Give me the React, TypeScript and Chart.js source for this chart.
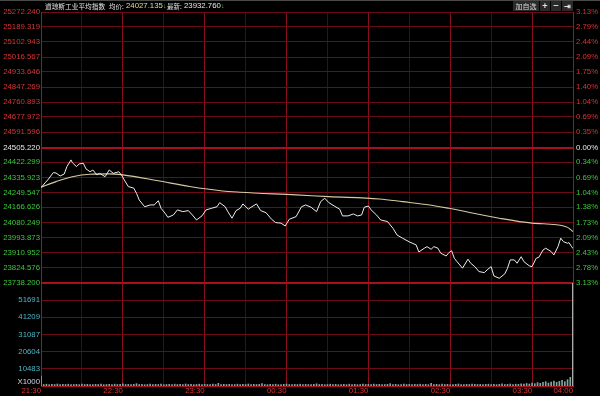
import React, { useEffect, useRef } from 'react';
import { Chart, registerables } from 'chart.js';

Chart.register(...registerables);

// ---------- data ----------
const PREV_CLOSE = 24505.22;
const PRICE_TICKS = [
  23738.2, 23824.576, 23910.952, 23993.873, 24080.249, 24166.626, 24249.547, 24335.923, 24422.299,
  24505.22, 24591.596, 24677.972, 24760.893, 24847.269, 24933.646, 25016.567, 25102.943, 25189.319, 25272.24,
];
const PRICE_LABELS = [
  '23738.200', '23824.576', '23910.952', '23993.873', '24080.249', '24166.626', '24249.547', '24335.923', '24422.299',
  '24505.220', '24591.596', '24677.972', '24760.893', '24847.269', '24933.646', '25016.567', '25102.943', '25189.319', '25272.240',
];
const PCT_LABELS = [
  '3.13%', '2.78%', '2.43%', '2.09%', '1.73%', '1.38%', '1.04%', '0.69%', '0.34%',
  '0.00%', '0.35%', '0.69%', '1.04%', '1.40%', '1.75%', '2.09%', '2.44%', '2.79%', '3.13%',
];

const TIME_TICKS = [0, 30, 60, 90, 120, 150, 180, 210, 240, 270, 300, 330, 360, 390];
const TIME_LABELS = ['21:30', '', '22:30', '', '23:30', '', '00:30', '', '01:30', '', '02:30', '', '03:30', '04:00'];

const PRICE_MIN = [
  0, 3, 5, 9, 11, 14, 17, 19, 22, 23, 26, 28, 31, 33, 36, 38, 41, 43, 47, 50, 53, 57, 59, 61, 64, 68, 70, 72, 76, 80,
  83, 86, 88, 91, 93, 97, 100, 104, 108, 111, 114, 118, 121, 125, 129, 131, 135, 137, 140, 143, 146, 148, 152, 154,
  158, 161, 165, 169, 172, 176, 179, 182, 187, 191, 194, 198, 202, 205, 208, 211, 215, 219, 221, 225, 229, 232, 235,
  237, 240, 242, 246, 249, 254, 258, 261, 265, 270, 275, 277, 281, 283, 286, 288, 291, 293, 297, 299, 301, 303, 305,
  309, 313, 315, 318, 321, 325, 327, 330, 332, 336, 340, 342, 344, 347, 349, 352, 354, 358, 360, 363, 365, 368, 370,
  374, 376, 379, 381, 383, 386, 387, 389, 390,
];
const PRICE_VAL = [
  24278, 24305, 24322, 24363, 24361, 24344, 24355, 24397, 24435, 24419, 24397, 24412, 24416, 24384, 24368, 24378,
  24350, 24359, 24340, 24378, 24359, 24368, 24350, 24322, 24284, 24275, 24246, 24208, 24170, 24180, 24180, 24204,
  24161, 24133, 24110, 24123, 24152, 24142, 24148, 24123, 24095, 24118, 24152, 24161, 24170, 24193, 24170, 24142,
  24105, 24148, 24161, 24186, 24156, 24167, 24186, 24148, 24136, 24099, 24080, 24077, 24061, 24099, 24114, 24170,
  24180, 24167, 24142, 24199, 24218, 24193, 24174, 24156, 24118, 24118, 24129, 24118, 24123, 24167, 24174, 24152,
  24123, 24095, 24086, 24048, 24010, 23992, 23971, 23954, 23914, 23935, 23944, 23929, 23944, 23935, 23907, 23891,
  23910, 23921, 23878, 23859, 23822, 23873, 23850, 23831, 23803, 23797, 23812, 23831, 23778, 23765, 23790, 23822,
  23869, 23869, 23850, 23887, 23859, 23835, 23831, 23878, 23884, 23925, 23935, 23916, 23897, 23944, 23992, 23972,
  23963, 23967, 23944, 23933,
];

const AVG_MIN = [0, 11, 23, 36, 50, 60, 85, 109, 133, 146, 187, 211, 248, 265, 285, 299, 336, 360, 385, 388, 390];
const AVG_VAL = [
  24280, 24312, 24340, 24354, 24356, 24350, 24318, 24284, 24259, 24252, 24237, 24227, 24214, 24199, 24180, 24161,
  24105, 24077, 24057, 24042, 24029,
];

// volume (x1000), one value every 2 minutes from 21:30
const VOL_STEP = 2;
const VOL_VAL = [
  6000, 900, 1100, 800, 1000, 900, 1200, 800, 1000, 900,
  1100, 800, 900, 1000, 800, 1100, 900, 1000, 800, 900,
  1000, 900, 1200, 800, 900, 1000, 800, 1100, 900, 1000,
  1300, 900, 1000, 800, 1000, 1400, 900, 1000, 800, 900,
  1100, 800, 1000, 900, 1200, 800, 900, 1000, 800, 1100,
  900, 1000, 800, 1200, 900, 1000, 800, 900, 1100, 800,
  1000, 900, 800, 1100, 900, 1600, 800, 1000, 900, 1000,
  800, 900, 1100, 800, 1000, 900, 1200, 800, 1000, 900,
  1000, 1500, 900, 800, 1000, 900, 1100, 800, 900, 1000,
  1200, 900, 800, 1000, 900, 1100, 800, 1000, 900, 800,
  1000, 1300, 900, 1000, 800, 900, 1100, 900, 1000, 800,
  900, 1000, 800, 1100, 900, 1000, 800, 900, 1200, 900,
  1000, 800, 1100, 900, 1000, 800, 900, 1000, 1400, 900,
  1000, 800, 900, 1100, 900, 1000, 800, 1000, 900, 1100,
  900, 1000, 800, 1600, 900, 1000, 800, 1100, 900, 1000,
  800, 900, 1000, 1200, 900, 800, 1000, 900, 1100, 1000,
  900, 1000, 800, 1000, 1100, 900, 1000, 800, 1000, 1300,
  900, 1000, 1200, 900, 1100, 1000, 1300, 1100, 1500, 1200,
  1800, 1400, 2000, 1600, 2200, 2600, 1800, 2400, 3000, 2200,
  2800, 3400, 2600, 3800, 5200, 61812,
];
const VOL_MAX = 61812;
const VOL_TICK_LABELS = ['X1000', '10483', '20604', '31087', '41209', '51691', ''];

// ---------- styling ----------
const RED = '#d83434';
const GREEN = '#3cc83c';
const WHITE = '#e8e8e8';
const TEAL = '#4cb6c6';
const GRID = '#6a0c16';
const GRID_BRIGHT = '#a8101e';
const GRID_DIM = '#4a0810';
const FONT = { family: '"Liberation Sans", Arial, sans-serif', size: 7.8 };

export default function App() {
  const ref = useRef<HTMLCanvasElement | null>(null);

  useEffect(() => {
    document.body.style.margin = '0';
    document.body.style.background = '#000';
    const canvas = ref.current;
    if (!canvas) return;

    const priceData = PRICE_MIN.map((m, i) => ({ x: m, y: PRICE_VAL[i] }));
    const avgData = AVG_MIN.map((m, i) => ({ x: m, y: AVG_VAL[i] }));
    const volData = VOL_VAL.map((v, i) => ({ x: i * VOL_STEP, y: v }));
    const volColors = VOL_VAL.map((_, i) => (i === VOL_VAL.length - 1 ? '#cfcfcf' : '#7fa8a0'));
    const xLabelOffsetVal = (VOL_MAX * 4.5) / 103;
    const volTicks = [xLabelOffsetVal, VOL_MAX / 6, (VOL_MAX * 2) / 6, (VOL_MAX * 3) / 6, (VOL_MAX * 4) / 6, (VOL_MAX * 5) / 6, VOL_MAX];

    const chart = new Chart(canvas, {
      type: 'line',
      data: {
        datasets: [
          {
            type: 'line',
            data: priceData,
            xAxisID: 'x',
            yAxisID: 'y',
            borderColor: '#ececec',
            borderWidth: 1,
            pointRadius: 0,
            tension: 0,
          },
          {
            type: 'line',
            data: avgData,
            xAxisID: 'x',
            yAxisID: 'y',
            borderColor: '#d6caa0',
            borderWidth: 1.1,
            pointRadius: 0,
            cubicInterpolationMode: 'monotone',
          },
          {
            type: 'bar',
            data: volData,
            xAxisID: 'x',
            yAxisID: 'yv',
            backgroundColor: volColors,
            barThickness: 1,
            grouped: false,
          } as any,
        ],
      },
      options: {
        responsive: false,
        maintainAspectRatio: false,
        animation: false,
        layout: { padding: { top: 12, left: 0, right: 0, bottom: 0 } },
        plugins: { legend: { display: false }, tooltip: { enabled: false } },
        events: [],
        scales: {
          x: {
            type: 'linear',
            position: 'bottom',
            offset: false,
            min: 0,
            max: 390,
            afterBuildTicks: (s: any) => {
              s.ticks = TIME_TICKS.map((v) => ({ value: v }));
            },
            afterFit: (s: any) => {
              s.height = 10;
              s.paddingLeft = 0;
              s.paddingRight = 0;
            },
            ticks: {
              autoSkip: false,
              maxRotation: 0,
              minRotation: 0,
              align: 'end',
              padding: 0,
              color: RED,
              font: FONT,
              callback: (_v: any, i: number) => TIME_LABELS[i],
            },
            grid: {
              offset: false,
              drawTicks: false,
              color: (c: any) => (c.index === 0 || c.index === 13 ? GRID_BRIGHT : c.index % 2 === 0 ? '#8a0e1c' : GRID_DIM),
              lineWidth: 1,
            },
            border: { display: true, color: GRID_BRIGHT, width: 1 },
          },
          y: {
            type: 'linear',
            position: 'left',
            stack: 'left',
            stackWeight: 271,
            weight: 1,
            min: PRICE_TICKS[0],
            max: PRICE_TICKS[PRICE_TICKS.length - 1],
            afterBuildTicks: (s: any) => {
              s.ticks = PRICE_TICKS.map((v) => ({ value: v }));
            },
            afterFit: (s: any) => {
              s.width = 41;
            },
            ticks: {
              autoSkip: false,
              padding: 1,
              font: FONT,
              color: (c: any) => (c.index > 9 ? RED : c.index === 9 ? WHITE : GREEN),
              callback: (_v: any, i: number) => PRICE_LABELS[i],
            },
            grid: {
              drawTicks: false,
              color: (c: any) => (c.index === 9 || c.index === 0 ? GRID_BRIGHT : GRID),
              lineWidth: (c: any) => (c.index === 9 || c.index === 0 ? 2 : 1),
            },
            border: { display: true, color: GRID_BRIGHT },
          },
          yv: {
            type: 'linear',
            position: 'left',
            stack: 'left',
            stackWeight: 103,
            weight: 0,
            min: 0,
            max: VOL_MAX,
            afterBuildTicks: (s: any) => {
              s.ticks = volTicks.map((v) => ({ value: v }));
            },
            afterFit: (s: any) => {
              s.width = 41;
            },
            ticks: {
              autoSkip: false,
              padding: 1,
              font: FONT,
              color: (c: any) => (c.index === 0 ? '#d4d0e4' : TEAL),
              callback: (_v: any, i: number) => VOL_TICK_LABELS[i],
            },
            grid: {
              drawTicks: false,
              color: (c: any) => (c.index === 0 ? 'rgba(0,0,0,0)' : c.index === 6 ? GRID_BRIGHT : GRID),
              lineWidth: (c: any) => (c.index === 6 ? 2 : 1),
            },
            border: { display: true, color: GRID_BRIGHT },
          },
          yp: {
            type: 'linear',
            position: 'right',
            stack: 'right',
            stackWeight: 271,
            weight: 0,
            min: PRICE_TICKS[0],
            max: PRICE_TICKS[PRICE_TICKS.length - 1],
            afterBuildTicks: (s: any) => {
              s.ticks = PRICE_TICKS.map((v) => ({ value: v }));
            },
            afterFit: (s: any) => {
              s.width = 27;
            },
            ticks: {
              autoSkip: false,
              padding: 3,
              font: FONT,
              color: (c: any) => (c.index > 9 ? RED : c.index === 9 ? WHITE : GREEN),
              callback: (_v: any, i: number) => PCT_LABELS[i],
            },
            grid: { display: false, drawTicks: false },
            border: { display: true, color: GRID_BRIGHT },
          },
          yv2: {
            type: 'linear',
            position: 'right',
            stack: 'right',
            stackWeight: 103,
            weight: 1,
            min: 0,
            max: VOL_MAX,
            afterFit: (s: any) => {
              s.width = 27;
            },
            ticks: { display: false },
            grid: { display: false, drawTicks: false },
            border: { display: true, color: GRID_BRIGHT },
          },
        },
      } as any,
    });
    return () => chart.destroy();
  }, []);

  const cjk = '"Noto Sans CJK SC", "Liberation Sans", sans-serif';
  const num = '"Liberation Sans", Arial, sans-serif';
  const span = (left: number, text: string, color: string, font: string, size: number) => (
    <span
      style={{
        position: 'absolute',
        left,
        top: 0,
        height: 12,
        lineHeight: '12px',
        fontFamily: font,
        fontSize: size,
        color,
        whiteSpace: 'nowrap',
      }}
    >
      {text}
    </span>
  );
  const btn = (left: number, width: number, text: string, size: number) => (
    <div
      style={{
        position: 'absolute',
        left,
        top: 1,
        width,
        height: 10,
        background: '#2a2a2a',
        color: '#e0e0e0',
        fontFamily: cjk,
        fontSize: size,
        lineHeight: '10px',
        textAlign: 'center',
        fontWeight: 'bold',
      }}
    >
      {text}
    </div>
  );

  return (
    <div style={{ position: 'relative', width: 600, height: 396, background: '#000', overflow: 'hidden' }}>
      <canvas ref={ref} width={600} height={396} style={{ position: 'absolute', left: 0, top: 0, width: 600, height: 396 }} />
      <div style={{ position: 'absolute', left: 0, top: 0, width: 600, height: 1, background: '#4a4a4a' }} />
      {span(45, '道琼斯工业平均指数', '#e4e4e4', cjk, 6.7)}
      {span(109, '均价:', '#e4e4e4', cjk, 6.5)}
      {span(126, '24027.135', '#e2dc9a', num, 7.8)}
      {span(163, '↓', GREEN, num, 7)}
      {span(167, '最新:', '#e4e4e4', cjk, 6.5)}
      {span(184, '23932.760', '#e6e6e6', num, 7.8)}
      {span(221, '↓', GREEN, num, 7)}
      <div style={{ position: 'absolute', left: 513, top: 1, width: 26, height: 10, background: '#2a2a2a', color: '#d8d8d8', fontFamily: cjk, fontSize: 7, lineHeight: '10px', textAlign: 'center' }}>加自选</div>
      {btn(540, 10, '+', 9)}
      {btn(551, 10, '−', 9)}
      {btn(562, 11, '⇥', 8)}
    </div>
  );
}
